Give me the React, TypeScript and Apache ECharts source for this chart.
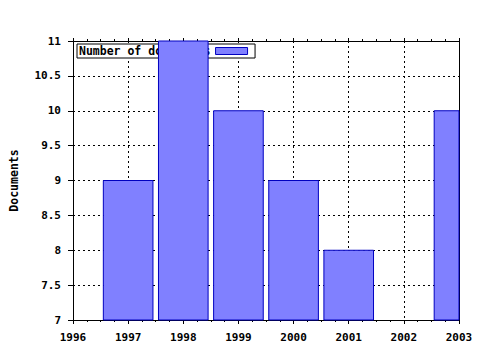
import React, { useEffect, useRef } from "react";
import * as echarts from "echarts";

const years = [1997, 1998, 1999, 2000, 2001, 2003];
const docs = [9, 11, 10, 9, 8, 10];
const seriesName = "Number of documents";
const yAxisName = "Documents";
const xTickMin = 1996;
const xTickMax = 2003;
const yTickMin = 7;
const yTickMax = 11;

const FONT = "'DejaVu Sans Mono', 'Liberation Mono', monospace";
const BAR_FILL = "#8080ff";
const BAR_EDGE = "#0000c0";

export default function App() {
  const ref = useRef<HTMLDivElement>(null);
  useEffect(() => {
    if (!ref.current) return;
    const chart = echarts.init(ref.current, undefined, { renderer: "svg" });
    const labelStyle = {
      color: "#000",
      fontFamily: FONT,
      fontWeight: "bold" as const,
      fontSize: 11,
    };
    const dotted = { show: true, lineStyle: { color: "#000", width: 1, type: [2, 3] as any } };
    chart.setOption({
      animation: false,
      backgroundColor: "#fff",
      grid: { left: 71, right: 21, top: 41, bottom: 30, containLabel: false },
      legend: {
        left: 77,
        top: 44,
        z: 1,
        align: "right",
        itemWidth: 32,
        itemHeight: 7,
        padding: [1, 7, 1, 2],
        borderColor: "#000",
        borderWidth: 1,
        borderRadius: 0,
        backgroundColor: "#fff",
        textStyle: { ...labelStyle, fontSize: 11.5 },
        data: [
          {
            name: seriesName,
            icon: "rect",
            itemStyle: { color: BAR_FILL, borderColor: BAR_EDGE, borderWidth: 1 },
          },
        ],
      },
      xAxis: [
        {
          type: "value",
          min: xTickMin,
          max: xTickMax,
          interval: 1,
          position: "bottom",
          axisLine: { show: true, lineStyle: { color: "#000", width: 1 } },
          axisTick: { show: true, length: 4, lineStyle: { color: "#000" } },
          minorTick: { show: true, splitNumber: 4, length: 2, lineStyle: { color: "#000" } },
          axisLabel: { ...labelStyle, margin: 12, formatter: (v: number) => String(v) },
          splitLine: dotted,
        },
        {
          type: "value",
          min: xTickMin,
          max: xTickMax,
          interval: 1,
          position: "top",
          axisLine: { show: true, lineStyle: { color: "#000", width: 1 } },
          axisTick: { show: true, length: 3, lineStyle: { color: "#000" } },
          minorTick: { show: true, splitNumber: 4, length: 2, lineStyle: { color: "#000" } },
          axisLabel: { show: false },
          splitLine: { show: false },
        },
      ],
      yAxis: [
        {
          type: "value",
          min: yTickMin,
          max: yTickMax,
          interval: 0.5,
          name: yAxisName,
          nameLocation: "middle",
          nameRotate: 90,
          nameGap: 53,
          nameTextStyle: { ...labelStyle, fontSize: 11.5 },
          axisLine: { show: true, lineStyle: { color: "#000", width: 1 } },
          axisTick: { show: true, length: 5, lineStyle: { color: "#000" } },
          axisLabel: { ...labelStyle, margin: 12 },
          splitLine: dotted,
        },
        {
          type: "value",
          min: yTickMin,
          max: yTickMax,
          interval: 0.5,
          position: "right",
          axisLine: { show: true, lineStyle: { color: "#000", width: 1 } },
          axisTick: { show: false },
          axisLabel: { show: false },
          splitLine: { show: false },
        },
      ],
      series: [
        {
          name: seriesName,
          type: "custom",
          xAxisIndex: 0,
          yAxisIndex: 0,
          z: 5,
          itemStyle: { color: BAR_FILL },
          data: years.map((y, i) => [y, docs[i]]),
          renderItem: (params: any, api: any) => {
            const x = api.value(0);
            const v = api.value(1);
            const top = api.coord([x, v]);
            const base = api.coord([x, yTickMin]);
            const w = api.size([1, 0])[0] * 0.9;
            const rect = echarts.graphic.clipRectByRect(
              { x: top[0] - w / 2, y: top[1], width: w, height: base[1] - top[1] },
              {
                x: params.coordSys.x,
                y: params.coordSys.y,
                width: params.coordSys.width,
                height: params.coordSys.height,
              }
            );
            if (!rect) return null;
            return {
              type: "rect",
              shape: rect,
              style: { fill: BAR_FILL, stroke: BAR_EDGE, lineWidth: 1 },
            };
          },
        },
      ],
    });
    return () => chart.dispose();
  }, []);
  return (
    <div
      ref={ref}
      style={{ position: "absolute", left: 0, top: 0, width: 480, height: 350 }}
    />
  );
}
